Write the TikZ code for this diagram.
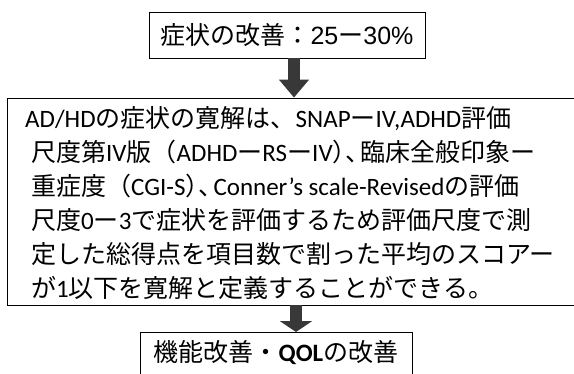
\documentclass[tikz,border=0pt]{standalone}
\usepackage{fontspec}
\setmainfont{Noto Sans CJK JP}
\newfontfamily\latinfont{Carlito}
\newfontfamily\arialfont{Liberation Sans}
\newfontfamily\halffont[RawFeature=+halt]{Noto Sans CJK JP}
\usetikzlibrary{arrows.meta}
\tikzset{
  stepbox/.style={draw=black, line width=0.8pt, inner sep=0pt, font=\fontsize{25}{34}\selectfont},
  blockarrow/.style={draw=black!78, line width=12pt}
}

\begin{document}
\begin{tikzpicture}[x=1pt,y=-1pt]
		%%%%% START %%%%%
		\useasboundingbox (0,0) rectangle (574,373);
		
		\node[stepbox, minimum width=276pt, minimum height=46pt] (improve) at (287,35)
		{症状の改善：{\arialfont 25}ー{\arialfont 30\%}};
		
		\node[stepbox, minimum width=580pt, minimum height=207pt] (remission) at (297,201.5) {};
		\node[font=\fontsize{25}{34}\selectfont, align=left, anchor=north west, inner sep=0pt] (define) at (25,106)
		{{\latinfont AD/HD}の症状の寛解は、{\latinfont SNAP}ー{\latinfont IV,ADHD}評価\\
		\hspace*{6pt}尺度第{\latinfont IV}版（{\latinfont ADHD}ー{\latinfont RS}ー{\latinfont IV}{\halffont ）、}\kern3pt 臨床全般印象ー\\
		\hspace*{6pt}重症度（{\latinfont CGI-S}{\halffont ）、}\kern3pt{\latinfont Conner’s scale-Revised}の評価\\
		\hspace*{6pt}尺度{\latinfont 0}ー{\latinfont 3}で症状を評価するため評価尺度で測\\
		\hspace*{6pt}定した総得点を項目数で割った平均のスコアー\\
		\hspace*{6pt}が{\latinfont 1}以下を寛解と定義することができる。};
		
		\node[stepbox, minimum width=272pt, text height=29.5pt, text depth=14.5pt, anchor=north] (function) at (276,332)
		{機能改善・{\latinfont\bfseries QOL}の改善};
		
		\draw[blockarrow, -{Triangle[width=29pt,length=18pt]}] ([xshift=7pt]improve.south) -- ([xshift=7pt]remission.north -| improve.south);
		\draw[blockarrow, -{Triangle[width=32pt,length=11pt]}] ([xshift=20pt]function.north |- remission.south) -- ([xshift=20pt]function.north);
		
		%%%%% END %%%%%
\end{tikzpicture}
\end{document}
